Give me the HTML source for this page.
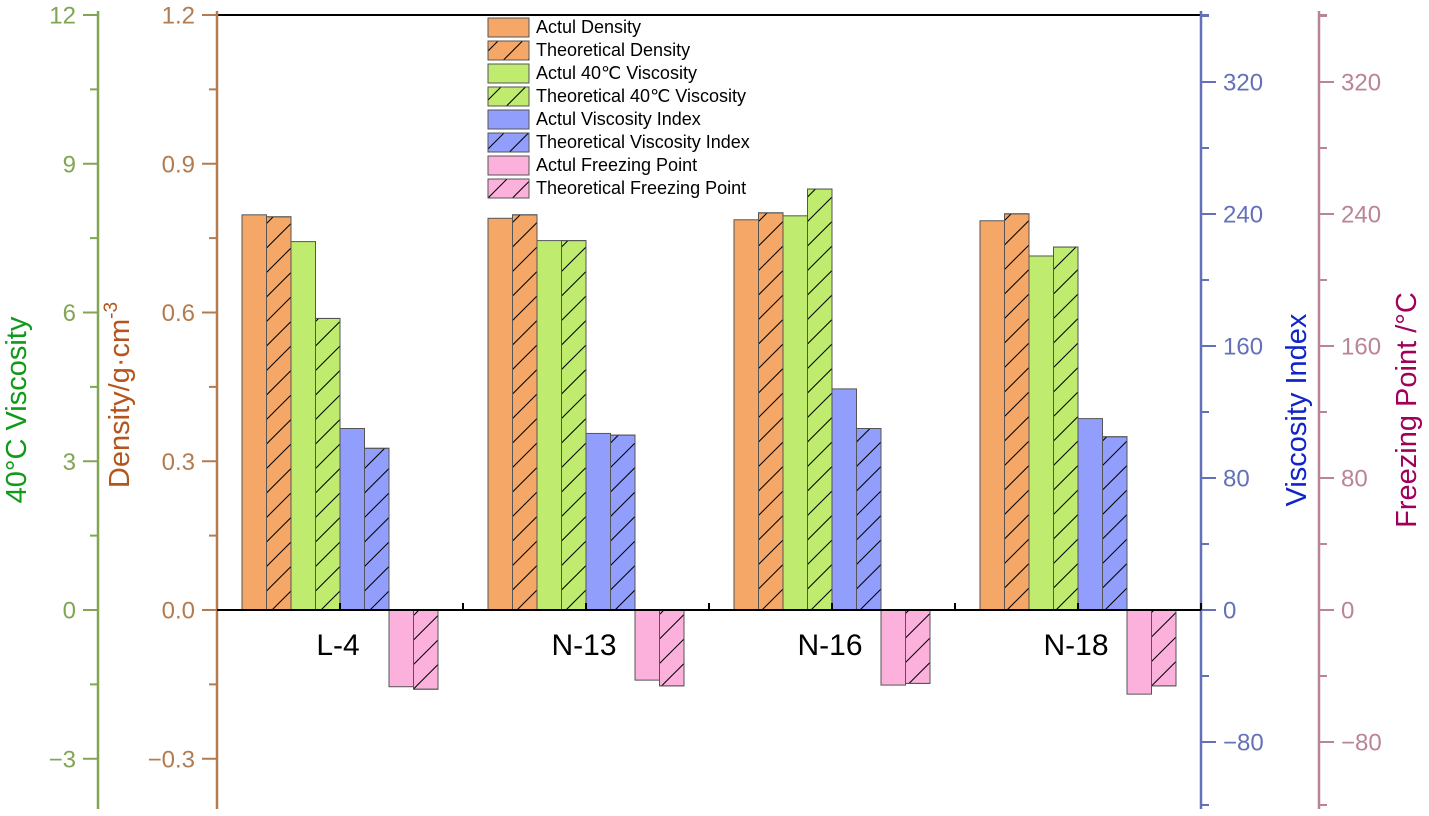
<!DOCTYPE html>
<html><head><meta charset="utf-8"><style>
body{margin:0;background:#fff;}
svg{display:block;font-family:"Liberation Sans",Arial,sans-serif;}
</style></head><body>
<svg id="chart" width="1429" height="816" viewBox="0 0 1429 816" xmlns="http://www.w3.org/2000/svg">
<defs>
<pattern id="hatch" patternUnits="userSpaceOnUse" width="24.5" height="24.5">
<line x1="0" y1="24.5" x2="24.5" y2="0" stroke="#000" stroke-width="1"/>
<line x1="-12" y1="12" x2="12" y2="-12" stroke="#000" stroke-width="1"/>
<line x1="12.5" y1="36.5" x2="36.5" y2="12.5" stroke="#000" stroke-width="1"/>
</pattern>
</defs>
<g id="axes"></g>
<g id="bars"></g>
<g id="legend"></g>
</svg>
<script>
const categories = ["L-4","N-13","N-16","N-18"];
const densityActual = [0.797,0.790,0.787,0.785];
const densityTheo = [0.793,0.797,0.801,0.799];
const viscActual = [7.43,7.45,7.95,7.14];
const viscTheo = [5.88,7.45,8.49,7.32];
const viActual = [110,107,134,116];
const viTheo = [98,106,110,105];
const fpActual = [-46.5,-42.5,-45.5,-51];
const fpTheo = [-48,-46,-44.5,-46];
const densityTicks = ["−0.3","0.0","0.3","0.6","0.9","1.2"];
const viscTicks = ["−3","0","3","6","9","12"];
const viTicks = ["−80","0","80","160","240","320"];

const NS="http://www.w3.org/2000/svg";
const Y0=610, YTOP=15, YBOT=805;
const pxPerUnitDensity=(Y0-YTOP)/1.2;
const yDensity=v=>Y0-v*pxPerUnitDensity;
const yVisc=v=>Y0-v*(Y0-YTOP)/12;
const yVI=v=>Y0-v*(Y0-82)/320;
const yFP=yVI;
const X0=217, X1=1201, groupW=246, barW=24.5;
const groupCenter=i=>340+i*groupW;

function mk(tag,attrs,parent){const e=document.createElementNS(NS,tag);for(const k in attrs)e.setAttribute(k,attrs[k]);parent.appendChild(e);return e;}
const axes=document.getElementById('axes'), bars=document.getElementById('bars'), legend=document.getElementById('legend');

let e=mk('line',{x1:X0,y1:YTOP,x2:X1,y2:YTOP,stroke:'#000','stroke-width':2},axes);



function vAxis(x,color,ticks,yf,dir,name){
  const g=mk('g',{},axes);
  
  
  mk('line',{x1:x,y1:YTOP-4,x2:x,y2:YBOT+4,stroke:color,'stroke-width':2.5},g);
  const vals=ticks.map(t=>parseFloat(t.replace('−','-')));
  const step=vals[1]-vals[0];
  for(let i=0;i<vals.length;i++){
    const y=yf(vals[i]);
    mk('line',{x1:x,y1:y,x2:x+dir*15,y2:y,stroke:color,'stroke-width':2},g);
    const t=mk('text',{x:x+dir*22,y:y+8.5,fill:color,'font-size':24,'text-anchor':dir<0?'end':'start'},g);
    t.textContent=ticks[i];
    
    
    const ym=yf(vals[i]+step/2);
    if(ym>YTOP-1 && ym<YBOT) mk('line',{x1:x,y1:ym,x2:x+dir*8,y2:ym,stroke:color,'stroke-width':2},g);
    const ym2=yf(vals[i]-step/2);
    if(i==0 && ym2<YBOT) mk('line',{x1:x,y1:ym2,x2:x+dir*8,y2:ym2,stroke:color,'stroke-width':2},g);
  }
  if(dir>0){
    mk('line',{x1:x,y1:YTOP,x2:x+8,y2:YTOP,stroke:color,'stroke-width':2},g);
    mk('line',{x1:x,y1:YBOT,x2:x+8,y2:YBOT,stroke:color,'stroke-width':2},g);
  }
}
vAxis(98,'#80A653',viscTicks,yVisc,-1,'viscosity-axis');
vAxis(217,'#B27C50',densityTicks,yDensity,-1,'density-axis');
vAxis(1201,'#6470B8',viTicks,yVI,1,'viscosity-index-axis');
vAxis(1319,'#BA8498',viTicks,yFP,1,'freezing-point-axis');

function title(x,y,txt,color,name){
  const t=mk('text',{x:x,y:y,fill:color,'font-size':29,'text-anchor':'middle',transform:`rotate(-90 ${x} ${y})`},axes);
  t.textContent=txt;
  
  
  return t;
}
title(26,410,'40°C Viscosity','#11991A','viscosity-axis-title');
const dt=title(129,395,'Density/g·cm','#B4561C','density-axis-title');
const sup=mk('tspan',{'font-size':19,dy:-12},dt);sup.textContent='-3';
title(1306,410,'Viscosity Index','#1024C8','viscosity-index-axis-title');
title(1416,410,'Freezing Point /°C','#A0005A','freezing-point-axis-title');

const series=[
 {a:densityActual,f:yDensity,c:'#F4A766',h:false,n:'Actul Density'},
 {a:densityTheo,f:yDensity,c:'#F4A766',h:true,n:'Theoretical Density'},
 {a:viscActual,f:yVisc,c:'#BFEB6E',h:false,n:'Actul 40℃ Viscosity'},
 {a:viscTheo,f:yVisc,c:'#BFEB6E',h:true,n:'Theoretical 40℃ Viscosity'},
 {a:viActual,f:yVI,c:'#919EFB',h:false,n:'Actul Viscosity Index'},
 {a:viTheo,f:yVI,c:'#919EFB',h:true,n:'Theoretical Viscosity Index'},
 {a:fpActual,f:yFP,c:'#FCB1DC',h:false,n:'Actul Freezing Point'},
 {a:fpTheo,f:yFP,c:'#FCB1DC',h:true,n:'Theoretical Freezing Point'}
];
categories.forEach((cat,i)=>{
  const gx=groupCenter(i)-4*barW;
  series.forEach((s,k)=>{
    const y=s.f(s.a[i]);
    const top=Math.min(y,Y0), h=Math.abs(y-Y0);
    const x=gx+k*barW;
    const r=mk('rect',{x:x,y:top,width:barW,height:h,fill:s.c,stroke:'#555','stroke-width':1},bars);
    
    
    if(s.h){
      const hr=mk('rect',{x:x,y:top,width:barW,height:h,fill:'url(#hatch)',stroke:'#555','stroke-width':1},bars);
      
      
    }
  });
  const lbl=mk('text',{x:groupCenter(i)-2,y:655,'font-size':30,'text-anchor':'middle',fill:'#000'},bars);
  lbl.textContent=cat;
  
  
});
e=mk('line',{x1:X0,y1:Y0,x2:X1,y2:Y0,stroke:'#000','stroke-width':2},bars);


for(let k=0;k<8;k++){
  const x=340+k*123;
  e=mk('line',{x1:x,y1:Y0,x2:x,y2:Y0-7,stroke:'#000','stroke-width':2},bars);
  
  
}
series.forEach((s,k)=>{
  const y=18+k*23;
  const g=mk('g',{},legend);
  
  
  mk('rect',{x:488,y:y,width:41,height:19,fill:s.c,stroke:'#555','stroke-width':1},g);
  if(s.h) mk('rect',{x:488,y:y,width:41,height:19,fill:'url(#hatch)',stroke:'#555','stroke-width':1},g);
  const t=mk('text',{x:536,y:y+15,'font-size':18,fill:'#000'},g);
  t.textContent=s.n;
});
</script>
</body></html>
